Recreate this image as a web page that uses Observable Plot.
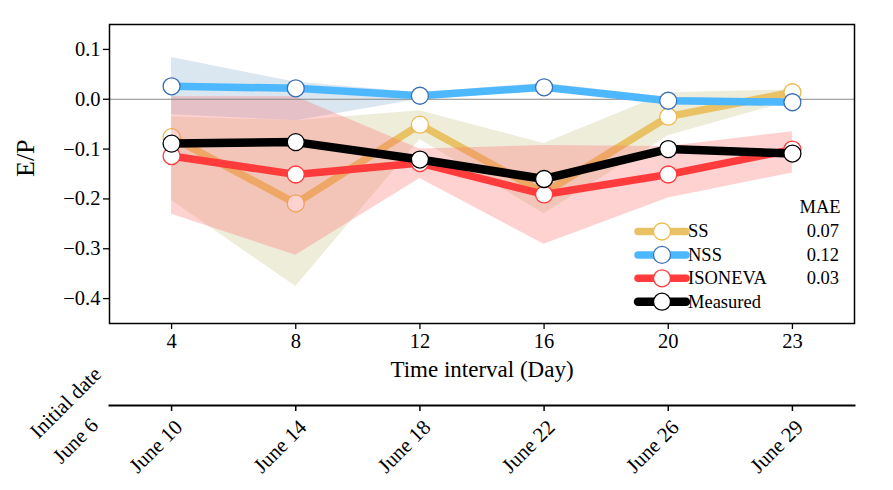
<!DOCTYPE html>
<html><head><meta charset="utf-8">
<script src="https://cdn.jsdelivr.net/npm/d3@7"></script>
<script src="https://cdn.jsdelivr.net/npm/@observablehq/plot@0.6"></script>
<style>
body{margin:0;background:#fff}
svg{font-family:"Liberation Serif","Times New Roman",serif}
</style>
</head><body><div id="chart"></div>
<script>
// categories
const idx = [0, 1, 2, 3, 4, 5];
const days = ["4", "8", "12", "16", "20", "23"];
const dates = ["June 10", "June 14", "June 18", "June 22", "June 26", "June 29"];
const startDate = "June 6";
const yTicks = [-0.4, -0.3, -0.2, -0.1, 0.0, 0.1];

// series (E/P)
const ss       = [-0.076, -0.209, -0.051, -0.188, -0.035, 0.014];
const ssLo     = [-0.203, -0.376, -0.081, -0.230, -0.073, -0.003];
const ssHi     = [-0.035, -0.043, -0.023, -0.089, 0.013, 0.019];
const nss      = [0.026, 0.022, 0.007, 0.024, -0.003, -0.006];
const nssLo    = [-0.031, -0.043, 0.000, 0.016, -0.010, -0.012];
const nssHi    = [0.084, 0.034, 0.013, 0.032, 0.004, 0.000];
const iso      = [-0.114, -0.151, -0.128, -0.191, -0.151, -0.101];
const isoLo    = [-0.231, -0.313, -0.159, -0.291, -0.198, -0.148];
const isoHi    = [0.005, 0.005, -0.100, -0.093, -0.095, -0.065];
const measured = [-0.089, -0.086, -0.121, -0.160, -0.100, -0.109];

// legend
const legendNames = ["SS", "NSS", "ISONEVA", "Measured"];
const legendMAE = ["0.07", "0.12", "0.03", ""];

const C = {
  ss: "#E9C266", ssEdge: "#EBBA4E", ssBand: "#BDB76B",
  nss: "#4DB8FF", nssEdge: "#3A6FB5", nssBand: "#4682B4",
  iso: "#FF3B3B", isoEdge: "#FF3B3B", isoBand: "#FF6B6B",
  meas: "#000000", measEdge: "#000000"
};

const rows = idx.map(i => ({
  i, ss: ss[i], ssLo: ssLo[i], ssHi: ssHi[i],
  nss: nss[i], nssLo: nssLo[i], nssHi: nssHi[i],
  iso: iso[i], isoLo: isoLo[i], isoHi: isoHi[i],
  meas: measured[i]
}));

const FONT = '"Liberation Serif","Times New Roman",serif';
const LW = 7.5, R = 8.5;
const lineOpts = (y, stroke, w = LW) => ({x: "i", y, stroke, strokeWidth: w, strokeLinejoin: "round", strokeLinecap: "round"});
const dotOpts = (y, stroke) => ({x: "i", y, r: R, fill: "white", stroke, strokeWidth: 1.3});

const plot = Plot.plot({
  width: 893,
  height: 490,
  marginLeft: 109,
  marginRight: 39,
  marginTop: 24,
  marginBottom: 167,
  style: {fontFamily: FONT, color: "#000", background: "#fff"},
  x: {domain: [-0.5, 5.5], axis: null},
  y: {domain: [-0.45, 0.15], axis: null},
  marks: [
    Plot.areaY(rows, {x: "i", y1: "ssLo", y2: "ssHi", fill: C.ssBand, fillOpacity: 0.25}),
    Plot.line(rows, lineOpts("ss", C.ss)),
    Plot.dot(rows, dotOpts("ss", C.ssEdge)),
    Plot.areaY(rows, {x: "i", y1: "nssLo", y2: "nssHi", fill: C.nssBand, fillOpacity: 0.2}),
    Plot.areaY(rows, {x: "i", y1: "isoLo", y2: "isoHi", fill: C.isoBand, fillOpacity: 0.3}),
    Plot.ruleY([0], {stroke: "#888", strokeWidth: 1}),
    Plot.line(rows, lineOpts("nss", C.nss)),
    Plot.dot(rows, dotOpts("nss", C.nssEdge)),
    Plot.line(rows, lineOpts("iso", C.iso)),
    Plot.dot(rows, dotOpts("iso", C.isoEdge)),
    Plot.line(rows, lineOpts("meas", C.meas, 8.5)),
    Plot.dot(rows, dotOpts("meas", C.measEdge)),
    Plot.frame({stroke: "#000", strokeWidth: 1.5}),
    Plot.axisY({ticks: yTicks, tickFormat: d3.format(".1f"), tickSize: 6, tickPadding: 3, fontSize: 20.5, label: null, strokeWidth: 1.3}),
    Plot.axisX({ticks: idx, tickFormat: i => days[i], tickSize: 6, tickPadding: 4, fontSize: 20.5, label: null, strokeWidth: 1.3}),
    Plot.text(["Time interval (Day)"], {frameAnchor: "bottom", lineAnchor: "middle", dy: 46, fontSize: 23}),
    Plot.text(["E/P"], {frameAnchor: "left", dx: -84, dy: 3, rotate: -90, fontSize: 26}),
    // secondary date axis
    Plot.frame({anchor: "bottom", dy: 82, stroke: "#000", strokeWidth: 2}),
    Plot.axisX({ticks: idx, tickFormat: () => "", tickSize: 6, dy: 82, label: null, strokeWidth: 1.5}),
    Plot.text(idx, {x: d => d, text: d => dates[d], frameAnchor: "bottom", dx: 12, dy: 105, rotate: -45, textAnchor: "end", fontSize: 21}),
    Plot.text([startDate], {frameAnchor: "bottom-left", dx: -10, dy: 103, rotate: -45, textAnchor: "end", fontSize: 21}),
    Plot.text(["Initial date"], {frameAnchor: "bottom-left", dx: -7, dy: 52, rotate: -45, textAnchor: "end", fontSize: 21})
  ]
});

document.getElementById("chart").appendChild(plot);

// legend (inside plot, lower right)
const svg = d3.select(plot);
const lg = svg.append("g").attr("font-size", 18.5).attr("font-family", FONT).attr("text-anchor", "start").attr("fill", "#000");
const lineCols = [C.ss, C.nss, C.iso, C.meas];
const edgeCols = [C.ssEdge, C.nssEdge, C.isoEdge, C.measEdge];
const lx0 = 638, lx1 = 686, ly0 = 231.5, lstep = 23.4;
lg.append("text").attr("x", 820).attr("y", 207).attr("text-anchor", "middle").attr("dy", "0.32em").text("MAE");
legendNames.forEach((name, k) => {
  const y = ly0 + k * lstep;
  lg.append("line").attr("x1", lx0).attr("x2", lx1).attr("y1", y).attr("y2", y)
    .attr("stroke", lineCols[k]).attr("stroke-width", k === 3 ? 8.5 : LW).attr("stroke-linecap", "round");
  lg.append("circle").attr("cx", (lx0 + lx1) / 2).attr("cy", y).attr("r", R)
    .attr("fill", "white").attr("stroke", edgeCols[k]).attr("stroke-width", 1.3);
  lg.append("text").attr("x", lx1 + 2).attr("y", y).attr("dy", "0.32em").attr("text-anchor", "start").text(name);
  if (legendMAE[k]) lg.append("text").attr("x", 839).attr("y", y).attr("dy", "0.32em").attr("text-anchor", "end").text(legendMAE[k]);
});
</script>
</body></html>
